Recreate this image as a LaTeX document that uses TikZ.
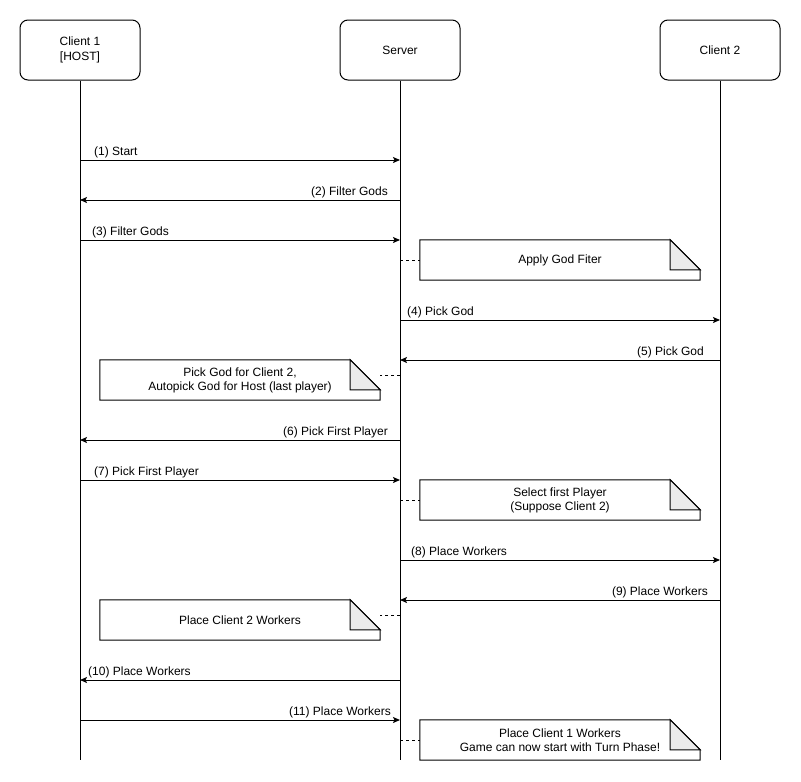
\documentclass[tikz,border=0pt]{standalone}
\usepackage{fontspec}
\setmainfont{Liberation Sans}
\usetikzlibrary{arrows.meta}
\newcommand\notedraw[1]{%
  \draw[line width=1pt] (#1.north west) -- ([xshift=-30pt]#1.north east) -- ([yshift=-30pt]#1.north east) -- (#1.south east) -- (#1.south west) -- cycle;
  \filldraw[fill=black!8, line width=1pt] ([xshift=-30pt]#1.north east) -- ([xshift=-30pt,yshift=-30pt]#1.north east) -- ([yshift=-30pt]#1.north east) -- cycle;}
\begin{document}
\begin{tikzpicture}[x=1pt,y=-1pt, font=\fontsize{12}{14}\selectfont,
  head/.style={draw, rounded corners=8pt, minimum width=120pt, minimum height=60pt, align=center, line width=1pt, inner sep=0pt},
  life/.style={line width=1pt},
  msg/.style={line width=1pt, -{Stealth[length=7pt,width=6pt,inset=1.5pt]}},
  lblw/.style={inner sep=0pt, anchor=base west},
  lble/.style={inner sep=0pt, anchor=base east},
  notebox/.style={minimum width=280pt, minimum height=40pt, align=center, inner sep=0pt},
  link/.style={dashed, line width=0.8pt, dash pattern=on 3pt off 3pt}]
\useasboundingbox (0,0) rectangle (801,782);
\fill[white] (0,0) rectangle (801,782);

% headers
\node[head] (h1) at (80,50) {Client 1\\[1pt][HOST]};
\node[head] (hs) at (400,50) {Server};
\node[head] (h2) at (720,50) {Client 2};

% lifeline ends
\coordinate (e1) at (80,760);
\coordinate (es) at (400,760);
\coordinate (e2) at (720,760);
\draw[life] (h1.south) -- (e1);
\draw[life] (hs.south) -- (es);
\draw[life] (h2.south) -- (e2);

% message end points
\foreach \y in {160,200,240,260,320,360,375,440,480,500,560,600,615,680,720,740} {
  \coordinate (a\y) at (80,\y);
  \coordinate (s\y) at (400,\y);
  \coordinate (b\y) at (720,\y);
}

% (1)
\draw[msg] (a160) -- (s160);
\node[lblw] (l1) at (94,155) {(1) Start};
% (2)
\draw[msg] (s200) -- (a200);
\node[lble] (l2) at (388,195) {(2) Filter Gods};
% (3)
\draw[msg] (a240) -- (s240);
\node[lblw] (l3) at (92,235) {(3) Filter Gods};
% note 1
\node[notebox] (n1) at (560,260) {Apply God Fiter};
\notedraw{n1}
\draw[link] (s260) -- (n1.west);
% (4)
\draw[msg] (s320) -- (b320);
\node[lblw] (l4) at (407,315) {(4) Pick God};
% (5)
\draw[msg] (b360) -- (s360);
\node[lble] (l5) at (704,355) {(5) Pick God};
% note 2
\node[notebox] (n2) at (240,380) {Pick God for Client 2,\\Autopick God for Host (last player)};
\notedraw{n2}
\draw[link] (s375) -- (n2.east |- s375);
% (6)
\draw[msg] (s440) -- (a440);
\node[lble] (l6) at (388,435) {(6) Pick First Player};
% (7)
\draw[msg] (a480) -- (s480);
\node[lblw] (l7) at (94,475) {(7) Pick First Player};
% note 3
\node[notebox] (n3) at (560,500) {Select first Player\\(Suppose Client 2)};
\notedraw{n3}
\draw[link] (s500) -- (n3.west);
% (8)
\draw[msg] (s560) -- (b560);
\node[lblw] (l8) at (411,555) {(8) Place Workers};
% (9)
\draw[msg] (b600) -- (s600);
\node[lble] (l9) at (708,595) {(9) Place Workers};
% note 4
\node[notebox] (n4) at (240,620) {Place Client 2 Workers};
\notedraw{n4}
\draw[link] (s615) -- (n4.east |- s615);
% (10)
\draw[msg] (s680) -- (a680);
\node[lblw] (l10) at (88,675) {(10) Place Workers};
% (11)
\draw[msg] (a720) -- (s720);
\node[lble] (l11) at (391,715) {(11) Place Workers};
% note 5
\node[notebox] (n5) at (560,740) {Place Client 1 Workers\\Game can now start with Turn Phase!};
\notedraw{n5}
\draw[link] (s740) -- (n5.west);
\end{tikzpicture}
\end{document}
